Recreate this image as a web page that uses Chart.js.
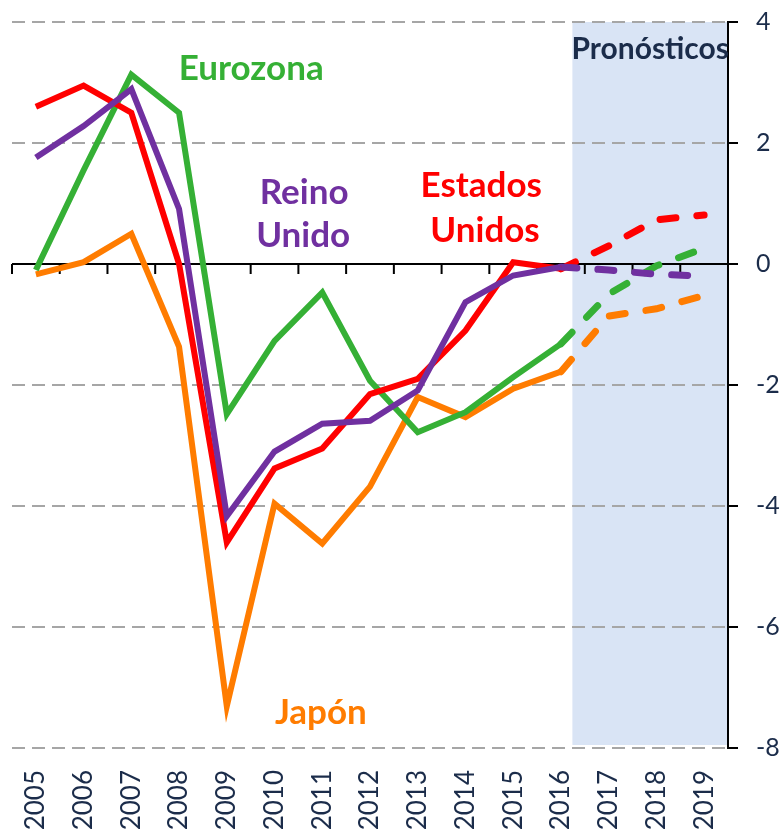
<!DOCTYPE html>
<html>
<head>
<meta charset="utf-8">
<script src="https://cdn.jsdelivr.net/npm/chart.js@4.4.1/dist/chart.umd.min.js"></script>
<style>
  html, body { margin: 0; padding: 0; background: #fff; }
  #wrap { width: 783px; height: 835px; position: relative; }
</style>
</head>
<body>
<div id="wrap"><canvas id="deficitChart"></canvas></div>
<script>
// Saldo / brecha por país, 2005-2019 (2017-2019 = pronósticos)
const YEARS = ['2005', '2006', '2007', '2008', '2009', '2010', '2011', '2012', '2013', '2014', '2015', '2016', '2017', '2018', '2019'];
const Y_TICKS = [-8, -6, -4, -2, 0, 2, 4];

const usHist   = [2.60, 2.95, 2.50, 0.00, -4.60, -3.38, -3.05, -2.15, -1.90, -1.10, 0.03, -0.08, null, null, null];
const usFcst   = [null, null, null, null, null, null, null, null, null, null, null, -0.08, 0.30, 0.73, 0.81];
const ezHist   = [-0.10, 1.55, 3.13, 2.50, -2.48, -1.27, -0.47, -1.93, -2.78, -2.45, -1.87, -1.32, null, null, null];
const ezFcst   = [null, null, null, null, null, null, null, null, null, null, null, -1.32, -0.50, -0.03, 0.26];
const ukHist   = [1.76, 2.28, 2.89, 0.91, -4.17, -3.10, -2.64, -2.59, -2.09, -0.63, -0.19, -0.05, null, null, null];
const ukFcst   = [null, null, null, null, null, null, null, null, null, null, null, -0.05, -0.10, -0.17, -0.20];
const jpHist   = [-0.17, 0.03, 0.50, -1.37, -7.31, -3.96, -4.62, -3.68, -2.20, -2.53, -2.06, -1.78, null, null, null];
const jpFcst   = [null, null, null, null, null, null, null, null, null, null, null, -1.78, -0.86, -0.74, -0.52];

const FORECAST_FROM = 11.24;   // category index where the shaded band starts

const C = {
  us: '#FF0000', ez: '#35B035', uk: '#7030A0', jp: '#FF7C00',
  ink: '#1B2C4A', grid: '#A6A6A6', shade: '#D9E4F5',
};
const FONT = 'Lato, "Open Sans", sans-serif';

function hist(data, color) {
  return { data, borderColor: color, backgroundColor: color, borderWidth: 6, pointRadius: 0, tension: 0, spanGaps: false };
}
function fcst(data, color) {
  return { data, borderColor: color, backgroundColor: color, borderWidth: 7, pointRadius: 0, tension: 0,
           borderDash: [16, 21], borderCapStyle: 'round', spanGaps: false };
}

const notes = [
  { text: 'Eurozona',    x: 4.51,  y: 3.04,  color: C.ez, size: 35 },
  { text: 'Reino',       x: 5.62,  y: 0.99,  color: C.uk, size: 35 },
  { text: 'Unido',       x: 5.60,  y: 0.28,  color: C.uk, size: 35 },
  { text: 'Estados',     x: 9.33,  y: 1.11,  color: C.us, size: 35 },
  { text: 'Unidos',      x: 9.41,  y: 0.36,  color: C.us, size: 35 },
  { text: 'Japón',       x: 5.97,  y: -7.60, color: C.jp, size: 35 },
  { text: 'Pronósticos', x: 12.87, y: 3.39,  color: C.ink, size: 30 },
];

const decor = {
  id: 'decor',
  beforeDraw(chart) {
    const { ctx, chartArea: a, scales: { x, y } } = chart;
    const step = x.getPixelForValue(1) - x.getPixelForValue(0);
    const x0 = x.getPixelForValue(11) + (FORECAST_FROM - 11) * step;
    ctx.save();
    ctx.fillStyle = C.shade;
    ctx.fillRect(x0, a.top, a.right - x0, y.getPixelForValue(-7.95) - a.top);
    ctx.restore();
  },
  beforeDatasetsDraw(chart) {
    const { ctx, chartArea: a, scales: { x, y } } = chart;
    const y0 = y.getPixelForValue(0);
    const step = x.getPixelForValue(1) - x.getPixelForValue(0);
    ctx.save();
    ctx.strokeStyle = '#000';
    ctx.lineWidth = 2;
    ctx.beginPath();
    ctx.moveTo(a.left, y0);
    ctx.lineTo(a.right, y0);
    for (let i = 0; i <= YEARS.length; i++) {
      const px = x.getPixelForValue(0) - step / 2 + i * step;
      ctx.moveTo(px, y0);
      ctx.lineTo(px, y0 + 10);
    }
    ctx.stroke();
    ctx.restore();
  },
  afterDatasetsDraw(chart) {
    const { ctx, scales: { x, y } } = chart;
    const step = x.getPixelForValue(1) - x.getPixelForValue(0);
    ctx.save();
    ctx.textAlign = 'center';
    ctx.textBaseline = 'alphabetic';
    notes.forEach(n => {
      ctx.font = `bold ${n.size}px ${FONT}`;
      ctx.fillStyle = n.color;
      ctx.fillText(n.text, x.getPixelForValue(0) + n.x * step, y.getPixelForValue(n.y));
    });
    ctx.restore();
  },
};

new Chart(document.getElementById('deficitChart'), {
  type: 'line',
  data: {
    labels: YEARS,
    datasets: [
      hist(ukHist, C.uk), hist(usHist, C.us), hist(ezHist, C.ez), hist(jpHist, C.jp),
      fcst(ukFcst, C.uk), fcst(usFcst, C.us), fcst(ezFcst, C.ez), fcst(jpFcst, C.jp),
    ],
  },
  options: {
    responsive: true,
    maintainAspectRatio: false,
    animation: false,
    layout: { padding: { left: 12, top: 22, right: 0, bottom: 0 } },
    plugins: { legend: { display: false }, tooltip: { enabled: false } },
    scales: {
      x: {
        offset: true,
        grid: { display: false, drawTicks: false },
        border: { display: false },
        ticks: { autoSkip: false, minRotation: 90, maxRotation: 90, padding: 22, color: C.ink, font: { family: FONT, size: 26 } },
        afterFit: (s) => { s.height = 87; s.paddingLeft = 0; s.paddingRight = 0; },
      },
      y: {
        position: 'right',
        min: -8, max: 4,
        afterBuildTicks: (s) => { s.ticks = Y_TICKS.map(v => ({ value: v })); },
        grid: {
          color: (c) => (c.tick && c.tick.value === 0 ? 'rgba(0,0,0,0)' : C.grid),
          lineWidth: 2, tickLength: 10, tickColor: '#000', tickWidth: 2, tickBorderDash: [],
        },
        border: { display: true, color: '#000', width: 2, dash: [13, 7] },
        ticks: { padding: 18, color: C.ink, font: { family: FONT, size: 25 } },
        afterFit: (s) => { s.width = 55; s.paddingTop = 0; s.paddingBottom = 0; },
      },
    },
  },
  plugins: [decor],
});
</script>
</body>
</html>
